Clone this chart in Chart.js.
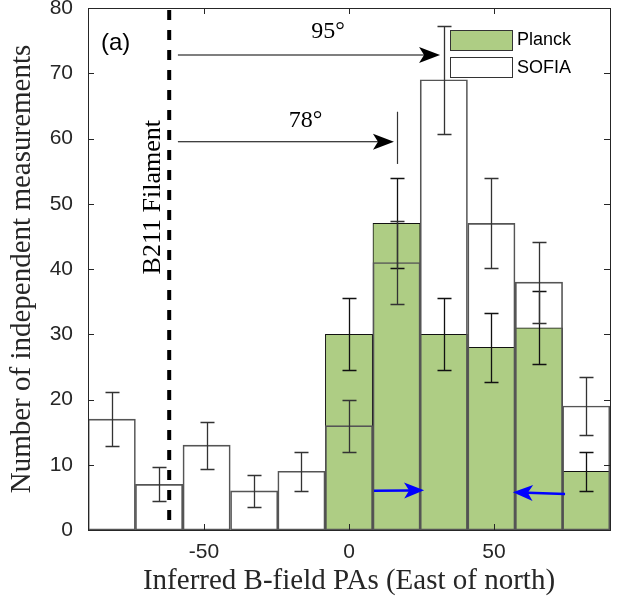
<!DOCTYPE html>
<html>
<head>
<meta charset="utf-8">
<script src="https://cdn.jsdelivr.net/npm/chart.js@4.4.1/dist/chart.umd.min.js"></script>
<style>
  html, body { margin: 0; padding: 0; background: #fff; }
  canvas { display: block; }
</style>
</head>
<body>
<canvas id="histChart" width="622" height="603"></canvas>
<script>
// Bin centres (deg, East of north), 11 bins across -90..90
var binCenters = [-81.8, -65.5, -49.1, -32.7, -16.4, 0, 16.4, 32.7, 49.1, 65.5, 81.8];
// Counts
var sofiaCounts = [17, 7, 13, 6, 9, 16, 41, 69, 47, 38, 19];
var planckCounts = [null, null, null, null, null, 30, 47, 30, 28, 31, 9];
// Error bar half-lengths
var sofiaErr = [4.1, 2.6, 3.6, 2.4, 3.0, 4.0, 6.4, 8.3, 6.9, 6.2, 4.4];
var planckErr = [null, null, null, null, null, 5.5, 6.9, 5.5, 5.3, 5.6, 3.0];
// Tick labels
var xTicks = [-50, 0, 50];
var yTicks = [0, 10, 20, 30, 40, 50, 60, 70, 80];

var axisColor = '#262626';
var green = '#aecd84';

function toPoints(vals) {
    return binCenters.map(function (c, i) { return { x: c, y: vals[i] }; });
}

function arrowHead(ctx, x0, y0, x1, y1, len, half, notch) {
    var ang = Math.atan2(y1 - y0, x1 - x0);
    ctx.save();
    ctx.translate(x1, y1);
    ctx.rotate(ang);
    ctx.beginPath();
    ctx.moveTo(0, 0);
    ctx.lineTo(-len, -half);
    ctx.lineTo(-len + notch, 0);
    ctx.lineTo(-len, half);
    ctx.closePath();
    ctx.fill();
    ctx.restore();
}

function arrow(ctx, x0, y0, x1, y1, color, width, len, half, notch) {
    ctx.save();
    ctx.strokeStyle = color;
    ctx.fillStyle = color;
    ctx.lineWidth = width;
    var ang = Math.atan2(y1 - y0, x1 - x0);
    ctx.beginPath();
    ctx.moveTo(x0, y0);
    ctx.lineTo(x1 - Math.cos(ang) * (len - notch), y1 - Math.sin(ang) * (len - notch));
    ctx.stroke();
    arrowHead(ctx, x0, y0, x1, y1, len, half, notch);
    ctx.restore();
}

var overlay = {
    id: 'overlay',
    afterDatasetsDraw: function (chart) {
        var ctx = chart.ctx, a = chart.chartArea;
        var xs = chart.scales.x, ys = chart.scales.y;

        // error bars
        function errBars(vals, errs, color) {
            ctx.save();
            ctx.strokeStyle = color;
            ctx.lineWidth = 1.3;
            for (var i = 0; i < vals.length; i++) {
                if (vals[i] === null) continue;
                var px = Math.round(xs.getPixelForValue(binCenters[i])) + 0.5;
                var top = Math.round(ys.getPixelForValue(vals[i] + errs[i])) + 0.5;
                var bot = Math.round(ys.getPixelForValue(vals[i] - errs[i])) + 0.5;
                ctx.beginPath();
                ctx.moveTo(px, top); ctx.lineTo(px, bot);
                ctx.moveTo(px - 7, top); ctx.lineTo(px + 7, top);
                ctx.moveTo(px - 7, bot); ctx.lineTo(px + 7, bot);
                ctx.stroke();
            }
            ctx.restore();
        }
        errBars(planckCounts, planckErr, '#111');
        errBars(sofiaCounts, sofiaErr, '#333');

        // filament direction
        ctx.save();
        ctx.strokeStyle = '#000';
        ctx.lineWidth = 4;
        ctx.setLineDash([10, 10]);
        var fx = xs.getPixelForValue(-62);
        ctx.beginPath();
        ctx.moveTo(fx, a.top + 2);
        ctx.lineTo(fx, a.bottom);
        ctx.stroke();
        ctx.restore();

        ctx.save();
        ctx.translate(xs.getPixelForValue(-67.6), ys.getPixelForValue(51));
        ctx.rotate(-Math.PI / 2);
        ctx.fillStyle = '#000';
        ctx.font = '26px "Liberation Serif"';
        ctx.textAlign = 'center';
        ctx.textBaseline = 'middle';
        ctx.fillText('B211 Filament', 0, 0);
        ctx.restore();

        // offset arrows
        arrow(ctx, xs.getPixelForValue(-59), ys.getPixelForValue(72.8),
            xs.getPixelForValue(31.4), ys.getPixelForValue(72.8), '#000', 1.2, 21, 8, 5);
        arrow(ctx, xs.getPixelForValue(-59), ys.getPixelForValue(59.5),
            xs.getPixelForValue(15.5), ys.getPixelForValue(59.5), '#000', 1.2, 21, 8, 5);
        ctx.save();
        ctx.strokeStyle = '#333';
        ctx.lineWidth = 1.2;
        var mx = Math.round(xs.getPixelForValue(16.6)) + 0.5;
        ctx.beginPath();
        ctx.moveTo(mx, ys.getPixelForValue(64.1));
        ctx.lineTo(mx, ys.getPixelForValue(56.1));
        ctx.stroke();
        ctx.fillStyle = '#000';
        ctx.font = '24px "Liberation Serif"';
        ctx.textAlign = 'center';
        ctx.textBaseline = 'middle';
        ctx.fillText('95°', xs.getPixelForValue(-7.2), ys.getPixelForValue(76.4));
        ctx.fillText('78°', xs.getPixelForValue(-15), ys.getPixelForValue(62.8));
        ctx.restore();

        // blue arrows
        arrow(ctx, xs.getPixelForValue(8.6), ys.getPixelForValue(6.0),
            xs.getPixelForValue(25.9), ys.getPixelForValue(6.1), '#0000ff', 2.5, 20, 8, 5);
        arrow(ctx, xs.getPixelForValue(74.5), ys.getPixelForValue(5.5),
            xs.getPixelForValue(56.5), ys.getPixelForValue(5.8), '#0000ff', 2.5, 20, 8, 5);

        // panel label
        ctx.save();
        ctx.fillStyle = '#000';
        ctx.font = '24px "Liberation Sans"';
        ctx.textBaseline = 'middle';
        ctx.fillText('(a)', a.left + 13, a.top + 35);
        ctx.restore();

        // legend
        ctx.save();
        var lx = a.right - 160;
        ctx.lineWidth = 1;
        ctx.strokeStyle = '#333';
        ctx.fillStyle = green;
        ctx.fillRect(lx, a.top + 22, 62, 20);
        ctx.strokeRect(lx + 0.5, a.top + 22.5, 62, 20);
        ctx.fillStyle = '#fff';
        ctx.fillRect(lx, a.top + 49, 62, 20);
        ctx.strokeRect(lx + 0.5, a.top + 49.5, 62, 20);
        ctx.fillStyle = '#000';
        ctx.font = '18px "Liberation Sans"';
        ctx.textBaseline = 'middle';
        ctx.fillText('Planck', lx + 67, a.top + 32);
        ctx.fillText('SOFIA', lx + 67, a.top + 60);
        ctx.restore();

        // frame and inward ticks
        ctx.save();
        ctx.strokeStyle = axisColor;
        ctx.lineWidth = 1;
        ctx.strokeRect(Math.round(a.left) + 0.5, Math.round(a.top) + 0.5,
            Math.round(a.right - a.left), Math.round(a.bottom - a.top));
        ctx.beginPath();
        xTicks.forEach(function (v) {
            var px = Math.round(xs.getPixelForValue(v)) + 0.5;
            ctx.moveTo(px, a.bottom); ctx.lineTo(px, a.bottom - 6);
            ctx.moveTo(px, a.top); ctx.lineTo(px, a.top + 6);
        });
        yTicks.forEach(function (v) {
            var py = Math.round(ys.getPixelForValue(v)) + 0.5;
            ctx.moveTo(a.left, py); ctx.lineTo(a.left + 6, py);
            ctx.moveTo(a.right, py); ctx.lineTo(a.right - 6, py);
        });
        ctx.stroke();
        ctx.restore();
    }
};

new Chart(document.getElementById('histChart').getContext('2d'), {
    type: 'bar',
    data: {
        datasets: [{
            label: 'SOFIA',
            data: toPoints(sofiaCounts),
            backgroundColor: 'rgba(255,255,255,0)',
            borderColor: '#555',
            borderWidth: 1,
            borderSkipped: false
        }, {
            label: 'Planck',
            data: toPoints(planckCounts),
            backgroundColor: green,
            borderColor: '#111',
            borderWidth: 1,
            borderSkipped: false
        }]
    },
    options: {
        responsive: false,
        animation: false,
        grouped: false,
        barPercentage: 1,
        categoryPercentage: 1,
        layout: { padding: { top: 8, right: 12, left: 0, bottom: 0 } },
        plugins: { legend: { display: false }, tooltip: { enabled: false } },
        scales: {
            x: {
                type: 'linear',
                min: -90,
                max: 90,
                offset: false,
                afterBuildTicks: function (s) { s.ticks = xTicks.map(function (v) { return { value: v }; }); },
                afterFit: function (s) { s.height = 73; s.paddingLeft = 0; s.paddingRight = 0; },
                grid: { display: false, drawTicks: false },
                border: { display: false },
                ticks: { color: axisColor, font: { family: 'Liberation Sans', size: 21 }, padding: 10, maxRotation: 0 },
                title: { display: true, text: 'Inferred B-field PAs (East of north)', color: axisColor,
                    font: { family: 'Liberation Serif', size: 29 }, padding: { top: 0, bottom: 4 } }
            },
            y: {
                min: 0,
                max: 80,
                afterBuildTicks: function (s) { s.ticks = yTicks.map(function (v) { return { value: v }; }); },
                afterFit: function (s) { s.width = 88; s.paddingTop = 0; s.paddingBottom = 0; },
                grid: { display: false, drawTicks: false },
                border: { display: false },
                ticks: { color: axisColor, font: { family: 'Liberation Sans', size: 21 }, padding: 15 },
                title: { display: true, text: 'Number of independent measurements', color: axisColor,
                    font: { family: 'Liberation Serif', size: 29 }, padding: { top: 5, bottom: 0 } }
            }
        }
    },
    plugins: [overlay]
});
</script>
</body>
</html>
